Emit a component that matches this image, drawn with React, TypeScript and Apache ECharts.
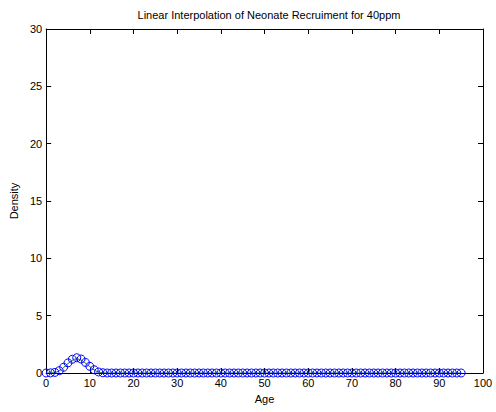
import React, { useEffect, useRef } from "react";
import * as echarts from "echarts";

const ages: number[] = Array.from({ length: 96 }, (_, i) => i);
const peakDensity: number[] = [0, 0.01, 0.05, 0.2, 0.5, 0.88, 1.2, 1.33, 1.22, 0.92, 0.58, 0.28, 0.09, 0.02];
const fitDensity: number[] = [0, 0.01, 0.05, 0.2, 0.48, 0.82, 1.1, 1.22, 1.12, 0.86, 0.55, 0.27, 0.09, 0.02];
const xTicks = { min: 0, max: 100, interval: 10 };
const yTicks = { min: 0, max: 30, interval: 5 };

const density = ages.map((a) => (a < peakDensity.length ? peakDensity[a] : 0));
const fit = ages.map((a) => (a < fitDensity.length ? fitDensity[a] : 0));

export default function App() {
  const ref = useRef<HTMLDivElement>(null);
  useEffect(() => {
    if (!ref.current) return;
    document.body.style.margin = "0";
    const chart = echarts.init(ref.current, null, { renderer: "svg" });
    const font = "Liberation Sans, Arial, sans-serif";
    const axisCommon = {
      type: "value" as const,
      axisLine: { show: true, onZero: false, lineStyle: { color: "#000", width: 1 } },
      axisTick: { show: true, inside: true, length: 5, lineStyle: { color: "#000" } },
      splitLine: { show: false },
    };
    chart.setOption({
      animation: false,
      backgroundColor: "#fff",
      title: {
        text: "Linear Interpolation of Neonate Recruiment for 40ppm",
        left: 264,
        textAlign: "center",
        top: 4,
        textStyle: { fontFamily: font, fontSize: 11, fontWeight: "normal", color: "#000" },
      },
      grid: { left: 46, right: 13, top: 29, bottom: 39 },
      xAxis: [
        {
          ...axisCommon,
          position: "bottom",
          min: xTicks.min,
          max: xTicks.max,
          interval: xTicks.interval,
          name: "Age",
          nameLocation: "middle",
          nameGap: 20,
          nameTextStyle: { fontFamily: font, fontSize: 11, color: "#000" },
          axisLabel: { fontFamily: font, fontSize: 11, color: "#000", margin: 4 },
        },
        {
          ...axisCommon,
          position: "top",
          min: xTicks.min,
          max: xTicks.max,
          interval: xTicks.interval,
          axisLabel: { show: false },
        },
      ],
      yAxis: [
        {
          ...axisCommon,
          position: "left",
          min: yTicks.min,
          max: yTicks.max,
          interval: yTicks.interval,
          name: "Density",
          nameLocation: "middle",
          nameGap: 25,
          nameRotate: 90,
          nameTextStyle: { fontFamily: font, fontSize: 11, color: "#000" },
          axisLabel: { fontFamily: font, fontSize: 11, color: "#000", margin: 4 },
        },
        {
          ...axisCommon,
          position: "right",
          min: yTicks.min,
          max: yTicks.max,
          interval: yTicks.interval,
          axisLabel: { show: false },
        },
      ],
      series: [
        {
          type: "line",
          data: ages.map((a, i) => [a, fit[i]]),
          showSymbol: false,
          smooth: true,
          lineStyle: { color: "#008000", width: 1 },
          z: 2,
        },
        {
          type: "line",
          data: ages.map((a, i) => [a, density[i]]),
          symbol: "circle",
          symbolSize: 8,
          showSymbol: true,
          itemStyle: { color: "rgba(0,0,0,0)", borderColor: "#0000ff", borderWidth: 1 },
          lineStyle: { width: 0, opacity: 0 },
          z: 3,
        },
      ],
    });
    return () => chart.dispose();
  }, []);
  return <div ref={ref} style={{ width: 496, height: 412 }} />;
}
